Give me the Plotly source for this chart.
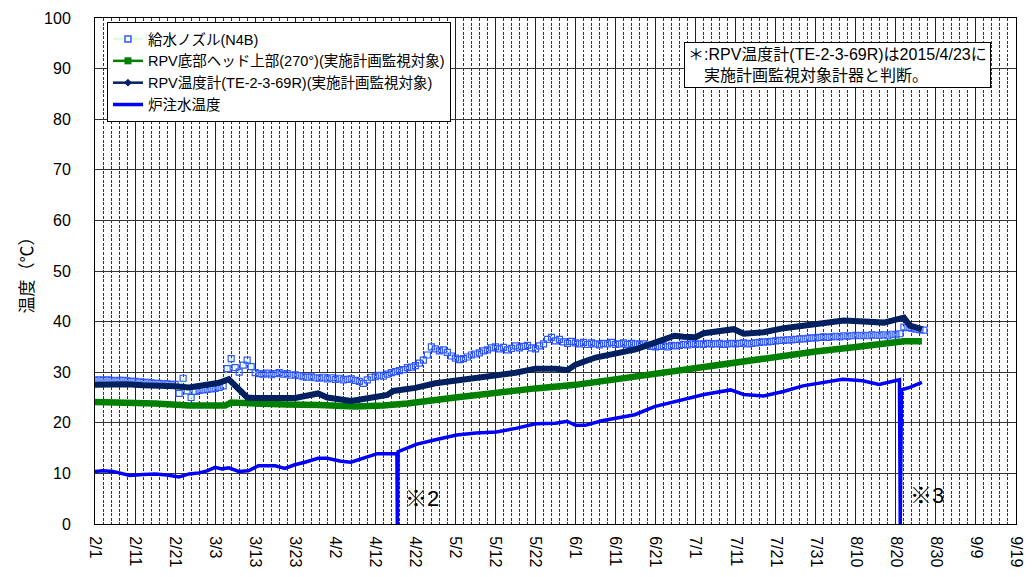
import pandas as pd
import plotly.graph_objects as go

# ---------------- data ----------------
START = "2015-02-01"
x_tick_labels = ["2/1", "2/11", "2/21", "3/3", "3/13", "3/23", "4/2", "4/12", "4/22",
                 "5/2", "5/12", "5/22", "6/1", "6/11", "6/21", "7/1", "7/11", "7/21",
                 "7/31", "8/10", "8/20", "8/30", "9/9", "9/19"]
y_ticks = [0, 10, 20, 30, 40, 50, 60, 70, 80, 90, 100]

series_names = ["給水ノズル(N4B)",
                "RPV底部ヘッド上部(270°)(実施計画監視対象)",
                "RPV温度計(TE-2-3-69R)(実施計画監視対象)",
                "炉注水温度"]

# 給水ノズル(N4B): daily values from 2/1
feed_nozzle = [
    28.4, 28.5, 28.4, 28.5, 28.4, 28.3, 28.4, 28.4, 28.3, 28.2, 28.2,
    28.1, 28.0, 28.0, 27.9, 27.8, 27.8, 27.7, 27.7, 27.6, 27.6,
    25.8, 28.8, 26.3, 25.0, 26.2, 26.4, 26.5, 26.6, 26.7, 26.8, 27.0, 27.3,
    30.7, 32.7, 30.9, 30.0, 31.4, 32.4, 31.1, 29.9, 29.7, 29.6,
    29.8, 29.5, 29.7, 29.9, 29.6, 29.7, 29.4, 29.5, 29.3, 29.1,
    29.0, 29.2, 28.9, 28.8, 29.0, 28.7, 28.9, 28.6, 28.8, 28.5,
    28.6, 28.7, 28.4, 28.2, 27.8, 28.5, 29.0, 29.1,
    29.4, 29.2, 29.6, 29.9, 30.1, 30.3,
    30.5, 30.9, 31.0, 31.3, 31.8, 32.4, 33.4, 35.0, 34.6, 34.2,
    34.4, 33.9, 33.2, 32.8, 32.5, 32.7, 33.0, 33.4, 33.6, 33.8,
    34.2, 34.4, 34.8, 35.0, 34.6, 34.9, 34.4, 34.7, 35.2, 34.8,
    35.1, 35.3, 34.8, 34.6, 35.2, 35.6, 36.5, 36.9, 36.2, 36.5,
    36.0, 35.7, 36.1, 35.8, 35.6, 35.9, 35.5, 35.8, 35.6, 35.4,
    35.7, 35.6, 35.9, 35.5, 35.6, 35.8, 35.5, 35.7, 35.6, 35.4,
    35.6, 35.3, 35.1, 35.0, 35.1, 35.2, 35.0, 35.3, 35.2, 35.3,
    35.5, 35.4, 35.6, 35.5,
    35.6, 35.5, 35.7, 35.6, 35.6, 35.7, 35.5, 35.6, 35.7, 35.6,
    35.7, 35.8, 35.6, 35.7, 35.8, 35.9, 36.0, 36.0, 36.1, 36.2,
    36.3, 36.3, 36.4, 36.4, 36.5, 36.6, 36.6, 36.7, 36.8, 36.8,
    36.9, 37.0, 36.9, 37.0, 37.1, 37.0, 37.2, 37.1, 37.2, 37.3,
    37.2, 37.3, 37.2, 37.4, 37.3, 37.3, 37.4, 37.2, 37.5, 37.4,
    37.6, 38.9, 38.8, 38.7, 38.5, 38.4, 38.3,
]

# RPV底部ヘッド上部 (day offset from 2/1, value)
bottom_head_days = [0, 9, 15, 23.5, 32.5, 34, 40, 48, 56, 65, 72, 75, 78, 90, 100, 110,
                    120, 130, 140, 150, 160, 172, 180, 190, 197, 200.5, 202, 206.5]
bottom_head_vals = [24.1, 24.0, 23.8, 23.4, 23.4, 24.0, 23.7, 23.6, 23.5, 23.2, 23.4, 23.5,
                    23.8, 25.0, 26.0, 26.8, 27.5, 28.6, 29.8, 31.1, 32.2, 33.3, 34.1, 35.0,
                    35.6, 35.8, 36.1, 36.1]

# RPV温度計 (TE-2-3-69R)
rpv_days = [0, 4, 8, 12, 16, 20, 23.5, 26, 28, 31, 33.4, 35, 36.5, 38, 40, 43, 47, 50, 53,
            55.7, 58, 61, 64, 67, 70, 73, 74.5, 77, 80, 85, 90, 95, 100, 105, 110, 115, 118,
            120, 125, 130, 135, 140, 144.7, 147, 150, 152, 156, 159.5, 162, 167, 172, 177,
            182, 187, 192, 197, 200.5, 202, 203.5, 206.5]
rpv_vals = [27.5, 27.6, 27.6, 27.4, 27.4, 27.2, 27.0, 27.3, 27.6, 27.9, 28.6, 27.2, 26.0,
            25.0, 24.9, 25.0, 24.9, 24.9, 25.3, 25.8, 25.0, 24.6, 24.3, 24.7, 25.1, 25.5,
            26.3, 26.5, 26.9, 27.8, 28.3, 28.8, 29.2, 29.9, 30.7, 30.7, 30.4, 31.5, 32.9,
            33.7, 34.5, 35.9, 37.2, 37.0, 36.9, 37.7, 38.0, 38.5, 37.6, 37.9, 38.7, 39.2,
            39.7, 40.2, 40.0, 39.8, 40.5, 40.8, 39.2, 38.5]

# 炉注水温度
inj_days = [0, 2, 4.5, 8.7, 12, 15, 18, 21, 23.5, 26, 28, 30, 31.7, 33.4, 35.9, 38.3, 40.8,
            45, 47.4, 49.9, 52.4, 55.7, 58, 61.4, 63.9, 67.2, 70.5, 75.4, 75.5, 75.7, 78.2,
            80.4, 85.3, 90.3, 95.2, 100.2, 105.1, 110, 115, 117.9, 120, 122.4, 126.6,
            131.5, 134.8, 139.7, 144.7, 149.6, 152.1, 158.7, 162, 167, 171.9, 176.8,
            181.8, 186.7, 191.7, 195.8, 200.9, 201.1, 201.4, 203.5, 206.5]
inj_vals = [10.35, 10.5, 10.4, 9.6, 9.8, 9.9, 9.7, 9.3, 9.9, 10.1, 10.5, 11.2, 10.9, 11.1,
            10.4, 10.5, 11.5, 11.5, 11.0, 11.7, 12.2, 13.0, 13.0, 12.4, 12.2, 13.1, 13.9,
            13.9, 0, 14.3, 15.1, 15.8, 16.7, 17.6, 18.0, 18.2, 18.9, 19.8, 19.9, 20.3, 19.5,
            19.5, 20.4, 21.1, 21.6, 23.2, 24.1, 25.0, 25.6, 26.5, 25.6, 25.3, 26.2, 27.3,
            27.9, 28.6, 28.3, 27.6, 28.5, 0, 26.5, 27.0, 28.0]

y_title = "温度（℃）"
note_text = "＊:RPV温度計(TE-2-3-69R)は2015/4/23に<br>　実施計画監視対象計器と判断。"
marks = [("※2", "2015-04-19", 5.0), ("※3", "2015-08-23", 5.6)]

# ---------------- helpers ----------------
t0 = pd.Timestamp(START)
def to_dates(days):
    return [t0 + pd.to_timedelta(d, unit="D") for d in days]

feed_dates = pd.date_range(START, periods=len(feed_nozzle), freq="D")
tick_vals = [pd.Timestamp("2015/" + s) for s in x_tick_labels]

C_FEED_LINE = "#ccffcc"
C_FEED_MK = "#3358ff"
C_GREEN = "#008000"
C_NAVY = "#002060"
C_BLUE = "#0000ff"
FONT = "Liberation Sans, Arial, Noto Sans CJK JP, sans-serif"

fig = go.Figure()

# data traces
fig.add_trace(go.Scatter(x=feed_dates, y=feed_nozzle, mode="lines+markers",
                         line=dict(color=C_FEED_LINE, width=1.5),
                         marker=dict(symbol="square-open", size=6, color=C_FEED_MK,
                                     line=dict(width=1.2, color=C_FEED_MK)),
                         showlegend=False, hoverinfo="skip"))
fig.add_trace(go.Scatter(x=to_dates(bottom_head_days), y=bottom_head_vals, mode="lines",
                         line=dict(color=C_GREEN, width=6.5), showlegend=False))
fig.add_trace(go.Scatter(x=to_dates(rpv_days), y=rpv_vals, mode="lines",
                         line=dict(color=C_NAVY, width=6), showlegend=False))
fig.add_trace(go.Scatter(x=to_dates(inj_days), y=inj_vals, mode="lines",
                         line=dict(color=C_BLUE, width=3.5), showlegend=False))

# legend entries
fig.add_trace(go.Scatter(x=[None], y=[None], mode="lines+markers", name=series_names[0],
                         line=dict(color=C_FEED_LINE, width=1.5),
                         marker=dict(symbol="square", size=6, color="white",
                                     line=dict(width=1.5, color=C_FEED_MK))))
fig.add_trace(go.Scatter(x=[None], y=[None], mode="lines+markers", name=series_names[1],
                         line=dict(color=C_GREEN, width=2.5),
                         marker=dict(symbol="square", size=7, color=C_GREEN)))
fig.add_trace(go.Scatter(x=[None], y=[None], mode="lines+markers", name=series_names[2],
                         line=dict(color=C_NAVY, width=2.5),
                         marker=dict(symbol="diamond", size=6, color=C_NAVY)))
fig.add_trace(go.Scatter(x=[None], y=[None], mode="lines", name=series_names[3],
                         line=dict(color=C_BLUE, width=3.5)))

annotations = [dict(xref="paper", yref="paper", x=0.639, y=0.953, xanchor="left",
                    yanchor="top", text=note_text, showarrow=False, align="left",
                    font=dict(size=16, color="black", family=FONT),
                    bgcolor="white", bordercolor="black", borderwidth=1, borderpad=3)]
for txt, d, v in marks:
    annotations.append(dict(x=d, y=v, xref="x", yref="y", text=txt, showarrow=False,
                            xanchor="left", yanchor="middle",
                            font=dict(size=22, color="black", family=FONT)))

fig.update_layout(
    width=1035, height=577,
    margin=dict(l=95, r=10, t=12, b=53),
    paper_bgcolor="white", plot_bgcolor="white",
    font=dict(family=FONT, color="black", size=14),
    legend=dict(x=0.013, y=0.992, xanchor="left", yanchor="top",
                bgcolor="white", bordercolor="black", borderwidth=1,
                font=dict(size=14.5, family=FONT), tracegroupgap=0,
                itemwidth=30),
    annotations=annotations,
    xaxis=dict(range=[tick_vals[0], tick_vals[-1]], tickmode="array",
               tickvals=tick_vals, ticktext=x_tick_labels, tickangle=90,
               tickfont=dict(size=16), ticklabelstandoff=8,
               showgrid=True, gridcolor="#222222", gridwidth=1,
               showline=True, linecolor="black", linewidth=1, mirror=True,
               ticks="", zeroline=False, layer="below traces",
               minor=dict(dtick=2 * 86400000, tick0=START, showgrid=True,
                          gridcolor="#333333", griddash="3px,1.5px", gridwidth=1)),
    yaxis=dict(range=[0, 100], tickmode="array", tickvals=y_ticks,
               tickfont=dict(size=16), ticklabelstandoff=20,
               showgrid=True, gridcolor="#333333", gridwidth=1,
               showline=True, linecolor="black", linewidth=1, mirror=True,
               ticks="", zeroline=False,
               title=dict(text=y_title, font=dict(size=17), standoff=6)),
)

fig.write_html("out.html", config={"displayModeBar": False},
               post_script="document.body.style.margin='0';document.body.style.overflow='hidden';")
